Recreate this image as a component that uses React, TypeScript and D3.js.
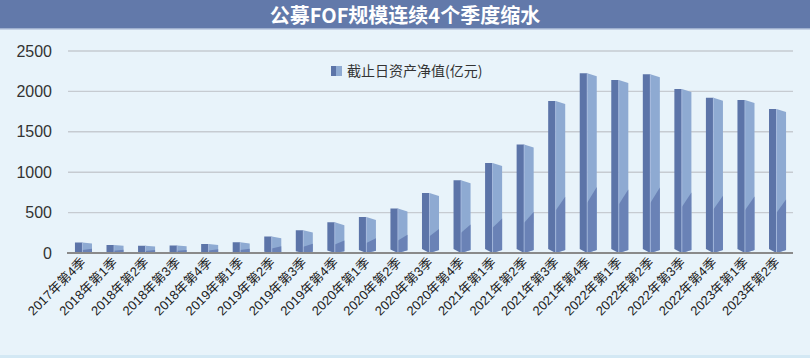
import React, { useEffect } from "react";
import * as d3 from "d3";

const categories = [
  "2017年第4季", "2018年第1季", "2018年第2季", "2018年第3季", "2018年第4季",
  "2019年第1季", "2019年第2季", "2019年第3季", "2019年第4季",
  "2020年第1季", "2020年第2季", "2020年第3季", "2020年第4季",
  "2021年第1季", "2021年第2季", "2021年第3季", "2021年第4季",
  "2022年第1季", "2022年第2季", "2022年第3季", "2022年第4季",
  "2023年第1季", "2023年第2季",
];
const values = [
  130, 100, 90, 94, 110, 132, 203, 281, 380, 446, 550, 743, 900, 1114, 1342,
  1881, 2224, 2140, 2212, 2030, 1922, 1893, 1782,
];
const yTicks = [0, 500, 1000, 1500, 2000, 2500];
const title = "公募FOF规模连续4个季度缩水";
const legendLabel = "截止日资产净值(亿元)";

const W = 810;
const H = 358;
const C = {
  bg: "#e8f3fa",
  title: "#6279aa",
  left: "#5c74a8",
  right: "#8eaad2",
  rightDark: "#6a82b6",
  grid: "#c6cbd1",
  axis: "#8a8a8a",
  text: "#333333",
};

export default function App() {
  useEffect(() => {
    document.body.style.margin = "0";
  }, []);

  const x = d3
    .scaleBand<string>()
    .domain(categories)
    .range([67.7, 793.3])
    .paddingInner(0.46)
    .paddingOuter(0.23);
  const y = d3.scaleLinear().domain([0, 2500]).range([253, 51]);
  const y0 = y(0);
  const bw = x.bandwidth();

  const font = "'Liberation Sans', Arial, 'Noto Sans CJK SC', sans-serif";

  return (
    <svg
      width={W}
      height={H}
      style={{ position: "absolute", left: 0, top: 0, display: "block" }}
      fontFamily={font}
    >
      <rect x={0} y={0} width={W} height={H} fill={C.bg} />
      <rect x={0} y={H - 3} width={W} height={3} fill="#d3e8f4" />
      <rect x={0} y={0} width={W} height={28} fill={C.title} />
      <rect x={0} y={28} width={W} height={1.5} fill="#9fb0cf" />
      <text
        x={W / 2}
        y={22.5}
        textAnchor="middle"
        fill="#ffffff"
        fontSize={20}
        fontWeight="bold"
        fontFamily="'Noto Sans CJK SC', sans-serif"
      >
        {title}
      </text>

      {/* grid */}
      {yTicks
        .filter((t) => t > 0)
        .map((t) => (
          <line
            key={t}
            x1={68}
            x2={793}
            y1={y(t)}
            y2={y(t)}
            stroke={C.grid}
            strokeWidth={1.4}
          />
        ))}
      {yTicks.map((t) => (
        <text
          key={"l" + t}
          x={52}
          y={y(t) + 5.5}
          textAnchor="end"
          fontSize={16}
          fill={C.text}
        >
          {t}
        </text>
      ))}

      {/* legend */}
      <rect x={331} y={66} width={5} height={10} fill={C.left} />
      <rect x={336} y={66} width={6} height={10} fill={C.right} />
      <text
        x={347}
        y={75.5}
        fontSize={14}
        fill={C.text}
        fontFamily="'Noto Sans CJK SC', sans-serif"
      >
        {legendLabel}
      </text>

      {/* bars */}
      {categories.map((c, i) => {
        const v = values[i];
        const xl = x(c) as number;
        const xr = xl + bw;
        const xm = xl + bw * 0.44;
        const top = y(v);
        const h = y0 - top;
        const vb = Math.min(4, h * 0.08);
        const ts = Math.min(3, h * 0.1);
        const dC = y0 - h * 0.28;
        const dR = y0 - vb * 0.75 - h * 0.35;
        return (
          <g key={c}>
            <polygon
              points={`${xl},${top} ${xm},${top} ${xm},${y0} ${xl},${y0 - vb}`}
              fill={C.left}
            />
            <polygon
              points={`${xm},${top} ${xr},${top + ts} ${xr},${y0 - vb * 0.75} ${xm},${y0}`}
              fill={C.right}
            />
            <polygon
              points={`${xm},${dC} ${xr},${dR} ${xr},${y0 - vb * 0.75} ${xm},${y0}`}
              fill={C.rightDark}
            />
            <line
              x1={xm}
              x2={xm}
              y1={top}
              y2={y0}
              stroke="#a9bde0"
              strokeWidth={0.8}
            />
          </g>
        );
      })}

      {/* axis */}
      <line x1={67} x2={793} y1={y0} y2={y0} stroke={C.axis} strokeWidth={2} />

      {categories.map((c) => {
        const cx = (x(c) as number) + bw / 2 + 3;
        const cy = 263;
        return (
          <text
            key={"x" + c}
            x={cx}
            y={cy}
            transform={`rotate(-45 ${cx} ${cy})`}
            textAnchor="end"
            fontSize={13}
            fill="#222"
          >
            {c}
          </text>
        );
      })}
    </svg>
  );
}
